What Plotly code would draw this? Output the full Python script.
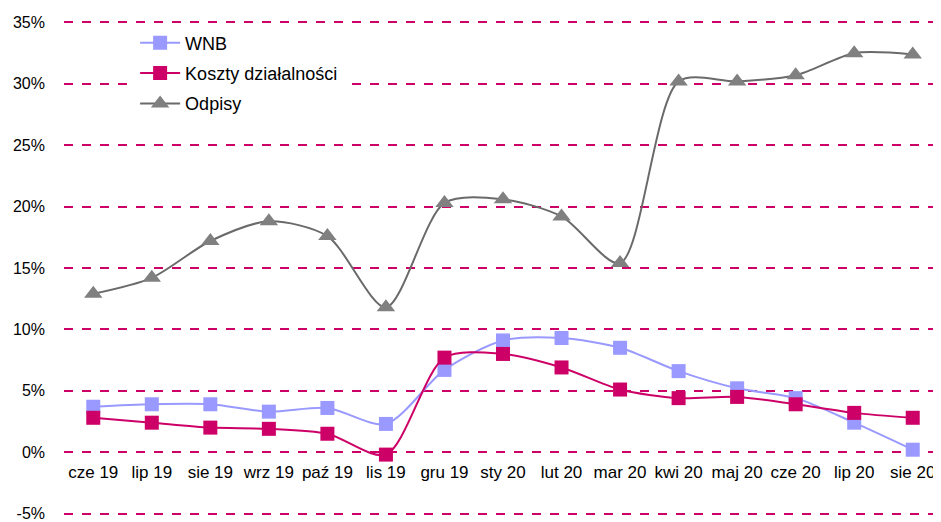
import plotly.graph_objects as go

months = ["cze 19", "lip 19", "sie 19", "wrz 19", "paź 19", "lis 19", "gru 19",
          "sty 20", "lut 20", "mar 20", "kwi 20", "maj 20", "cze 20", "lip 20", "sie 20"]

wnb = [3.7, 3.9, 3.9, 3.3, 3.6, 2.3, 6.7, 9.1, 9.3, 8.5, 6.6, 5.2, 4.4, 2.4, 0.2]
koszty = [2.8, 2.4, 2.0, 1.9, 1.5, -0.2, 7.7, 8.0, 6.9, 5.1, 4.4, 4.5, 3.9, 3.2, 2.8]
odpisy = [12.9, 14.2, 17.2, 18.8, 17.6, 11.8, 20.3, 20.6, 19.2, 15.4, 30.2, 30.2, 30.7, 32.5, 32.4]

y_ticks = [-5, 0, 5, 10, 15, 20, 25, 30, 35]
y_labels = ["-5%", "0%", "5%", "10%", "15%", "20%", "25%", "30%", "35%"]

y_lo, y_hi = -5.2, 35.2

fig = go.Figure()

fig.add_trace(go.Scatter(x=months, y=wnb, name="WNB", mode="lines+markers", legendgroup="a",
                         line=dict(color="#9999FF", width=2, shape="spline", smoothing=0.8),
                         marker=dict(symbol="square", size=14, color="#9999FF")))
fig.add_trace(go.Scatter(x=months, y=koszty, name="Koszty działalności", mode="lines+markers",
                         legendgroup="b",
                         line=dict(color="#CC0066", width=2, shape="spline", smoothing=0.8),
                         marker=dict(symbol="square", size=14, color="#CC0066")))
fig.add_trace(go.Scatter(x=months, y=odpisy, name="Odpisy", mode="lines+markers", legendgroup="c",
                         line=dict(color="#6A6A6A", width=2, shape="spline", smoothing=0.8),
                         marker=dict(symbol="triangle-up", size=16, color="#808080")))

# category axis crosses the value axis at 0%
fig.update_xaxes(anchor="free", position=(0 - y_lo) / (y_hi - y_lo), range=[-0.5, len(months) - 0.5],
                 showline=False, showgrid=False, ticks="", automargin=False, ticklabelstandoff=8,
                 tickfont=dict(size=17, color="#000000"))
fig.update_yaxes(range=[y_lo, y_hi], tickvals=y_ticks, ticktext=y_labels,
                 showgrid=True, gridcolor="#CC0066", griddash="dash", gridwidth=1.5,
                 zeroline=False, showline=False, ticklabelstandoff=18, automargin=False,
                 tickfont=dict(size=16, color="#000000"))

# page body adds 8px offset, margins compensate
fig.update_layout(
    width=941, height=522,
    margin=dict(l=56, r=7, t=11.5, b=13.5),
    plot_bgcolor="white", paper_bgcolor="white",
    font=dict(family="Liberation Sans, Arial, sans-serif", size=16, color="#000000"),
    showlegend=True,
    legend=dict(x=0.081, y=0.991, xanchor="left", yanchor="top",
                bgcolor="white", font=dict(size=18), tracegroupgap=4,
                itemwidth=40),
)

fig.write_html("out.html")
